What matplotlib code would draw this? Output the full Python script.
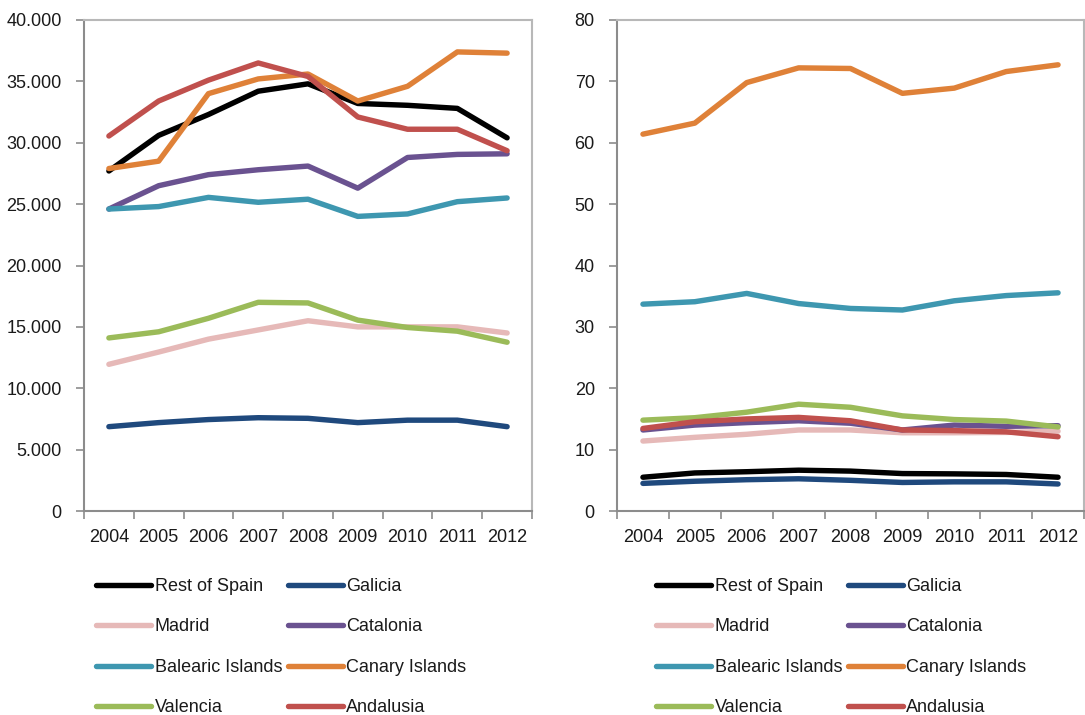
import matplotlib
matplotlib.use("Agg")
import matplotlib.pyplot as plt
from matplotlib.ticker import FuncFormatter, FixedLocator

plt.rcParams['font.family'] = ['Liberation Sans', 'DejaVu Sans']

years = ['2004', '2005', '2006', '2007', '2008', '2009', '2010', '2011', '2012']
regions = ['Rest of Spain', 'Galicia', 'Madrid', 'Catalonia',
           'Balearic Islands', 'Canary Islands', 'Valencia', 'Andalusia']
colors = ['#000000', '#1F497D', '#E6B9B8', '#6A5290',
          '#3E97B0', '#DF8138', '#9BBB59', '#C0504D']

# Left panel (absolute values)
rest_abs = [27700, 30600, 32300, 34200, 34800, 33200, 33050, 32800, 30400]
galicia_abs = [6870, 7200, 7450, 7600, 7550, 7200, 7400, 7400, 6870]
madrid_abs = [11950, 12950, 14000, 14750, 15500, 15000, 15000, 15000, 14500]
catalonia_abs = [24600, 26500, 27400, 27800, 28100, 26300, 28800, 29050, 29100]
balearic_abs = [24600, 24800, 25550, 25150, 25400, 24000, 24200, 25200, 25500]
canary_abs = [27900, 28500, 34000, 35200, 35600, 33400, 34600, 37400, 37300]
valencia_abs = [14100, 14600, 15700, 17000, 16950, 15550, 14950, 14650, 13750]
andalusia_abs = [30550, 33400, 35100, 36500, 35400, 32100, 31100, 31100, 29350]

# Right panel (relative values)
rest_rel = [5.5, 6.2, 6.4, 6.65, 6.5, 6.1, 6.05, 5.95, 5.5]
galicia_rel = [4.5, 4.85, 5.1, 5.25, 5.0, 4.65, 4.75, 4.75, 4.4]
madrid_rel = [11.4, 12.0, 12.5, 13.2, 13.2, 12.75, 12.75, 12.8, 13.0]
catalonia_rel = [13.2, 14.0, 14.4, 14.7, 14.3, 13.2, 14.0, 13.8, 13.9]
balearic_rel = [33.7, 34.1, 35.45, 33.8, 33.0, 32.75, 34.25, 35.1, 35.55]
canary_rel = [61.4, 63.2, 69.8, 72.2, 72.1, 68.05, 68.9, 71.6, 72.7]
valencia_rel = [14.8, 15.2, 16.1, 17.4, 16.9, 15.5, 14.9, 14.65, 13.7]
andalusia_rel = [13.45, 14.55, 15.0, 15.25, 14.7, 13.2, 13.1, 12.9, 12.1]

left_series = [rest_abs, galicia_abs, madrid_abs, catalonia_abs,
               balearic_abs, canary_abs, valencia_abs, andalusia_abs]
right_series = [rest_rel, galicia_rel, madrid_rel, catalonia_rel,
                balearic_rel, canary_rel, valencia_rel, andalusia_rel]

W, H = 1085, 715
fig = plt.figure(figsize=(W / 100, H / 100), dpi=100)
ax1 = fig.add_axes([84 / W, (H - 511) / H, (532 - 84) / W, (511 - 20) / H])
ax2 = fig.add_axes([617 / W, (H - 511) / H, (1084 - 617) / W, (511 - 20) / H])

FS = 13
spine_col = '#8C8C8C'
text_col = '#1A1A1A'


def style_axis(ax, ymax, ystep, fmt):
    ax.set_xlim(-0.5, len(years) - 0.5)
    ax.set_ylim(0, ymax)
    ax.set_yticks(range(0, ymax + 1, ystep))
    ax.yaxis.set_major_formatter(FuncFormatter(fmt))
    # tick marks sit on the boundaries between categories
    ax.xaxis.set_major_locator(FixedLocator([i - 0.5 for i in range(len(years) + 1)]))
    ax.xaxis.set_major_formatter(FuncFormatter(lambda v, p: ''))
    ax.xaxis.set_minor_locator(FixedLocator(list(range(len(years)))))
    ax.set_xticklabels(years, minor=True)
    ax.tick_params(axis='x', which='major', length=6, width=1.2, color=spine_col, direction='out')
    ax.tick_params(axis='x', which='minor', length=0, pad=13, labelsize=FS, labelcolor=text_col)
    ax.tick_params(axis='y', length=6, width=1.2, color=spine_col, direction='out',
                   pad=10, labelsize=FS, labelcolor=text_col)
    for s in ax.spines.values():
        s.set_color(spine_col)
        s.set_linewidth(1.5)
    ax.spines['top'].set_color('#B8B8B8')
    ax.spines['right'].set_color('#B8B8B8')


def draw(ax, series):
    x = list(range(len(years)))
    return [ax.plot(x, vals, color=c, lw=3.9, solid_capstyle='round',
                    solid_joinstyle='round', label=name)[0]
            for name, vals, c in zip(regions, series, colors)]


lines1 = draw(ax1, left_series)
lines2 = draw(ax2, right_series)
style_axis(ax1, 40000, 5000, lambda v, p: f"{int(v):,}".replace(',', '.'))
style_axis(ax2, 80, 10, lambda v, p: f"{int(v)}")

# legend filled row by row: two entries per row
order = [0, 2, 4, 6, 1, 3, 5, 7]
for ax, lines, x0 in ((ax1, lines1, 96), (ax2, lines2, 656)):
    ax.legend([lines[i] for i in order], [regions[i] for i in order],
              loc='upper left', bbox_to_anchor=(x0 / W, (H - 578) / H),
              bbox_transform=fig.transFigure, ncol=2, frameon=False,
              fontsize=FS, handlelength=3.05, handletextpad=0.2,
              columnspacing=0.3, labelspacing=1.3, borderpad=0,
              borderaxespad=0, labelcolor=text_col)

fig.savefig('out.png', dpi=100)
